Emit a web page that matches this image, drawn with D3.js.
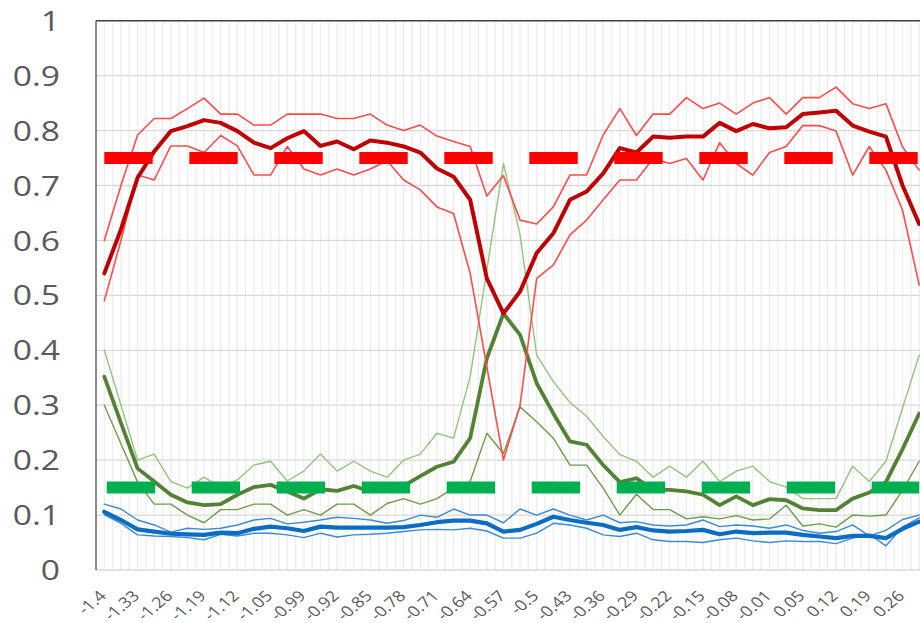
<!DOCTYPE html>
<html>
<head>
<meta charset="utf-8">
<script src="https://cdn.jsdelivr.net/npm/d3@7"></script>
<style>
  html, body { margin: 0; padding: 0; background: #fff; }
  svg { display: block; font-family: "Open Sans", "DejaVu Sans", sans-serif; }
</style>
</head>
<body>
<svg id="chart" width="920" height="623"></svg>
<script>
// Category labels shown on every second category
const xTickLabels = ["-1.4", "-1.33", "-1.26", "-1.19", "-1.12", "-1.05", "-0.99", "-0.92", "-0.85",
  "-0.78", "-0.71", "-0.64", "-0.57", "-0.5", "-0.43", "-0.36", "-0.29", "-0.22", "-0.15",
  "-0.08", "-0.01", "0.05", "0.12", "0.19", "0.26"];

const yTicks = [0, 0.1, 0.2, 0.3, 0.4, 0.5, 0.6, 0.7, 0.8, 0.9, 1];

// Reference levels drawn as thick dashed lines
const upperLevel = 0.75;
const lowerLevel = 0.15;

const redUpper = [0.60, 0.70, 0.792, 0.822, 0.822, 0.84, 0.859, 0.83, 0.83, 0.81,
  0.81, 0.83, 0.83, 0.83, 0.822, 0.822, 0.83, 0.81, 0.80, 0.81,
  0.79, 0.78, 0.771, 0.681, 0.718, 0.637, 0.63, 0.661, 0.719, 0.719,
  0.792, 0.84, 0.791, 0.83, 0.83, 0.86, 0.84, 0.85, 0.83, 0.85,
  0.86, 0.83, 0.86, 0.86, 0.879, 0.849, 0.84, 0.849, 0.77, 0.728];

const redMean = [0.54, 0.62, 0.714, 0.762, 0.799, 0.808, 0.819, 0.814, 0.799, 0.778,
  0.768, 0.786, 0.799, 0.772, 0.78, 0.766, 0.782, 0.778, 0.771, 0.76,
  0.731, 0.716, 0.674, 0.531, 0.467, 0.507, 0.577, 0.613, 0.674, 0.689,
  0.722, 0.768, 0.76, 0.789, 0.787, 0.789, 0.789, 0.814, 0.799, 0.812,
  0.804, 0.806, 0.83, 0.833, 0.836, 0.809, 0.798, 0.789, 0.70, 0.63];

const redLower = [0.49, 0.60, 0.719, 0.71, 0.772, 0.772, 0.76, 0.791, 0.772, 0.719,
  0.719, 0.771, 0.73, 0.719, 0.73, 0.719, 0.73, 0.745, 0.71, 0.692,
  0.661, 0.649, 0.54, 0.37, 0.20, 0.30, 0.531, 0.555, 0.61, 0.637,
  0.674, 0.71, 0.71, 0.749, 0.74, 0.749, 0.71, 0.778, 0.74, 0.719,
  0.76, 0.771, 0.809, 0.809, 0.799, 0.719, 0.771, 0.728, 0.655, 0.519];

const greenUpper = [0.40, 0.30, 0.20, 0.211, 0.161, 0.149, 0.169, 0.151, 0.164, 0.191,
  0.198, 0.162, 0.18, 0.211, 0.18, 0.198, 0.18, 0.169, 0.20, 0.211,
  0.249, 0.24, 0.352, 0.546, 0.74, 0.61, 0.391, 0.343, 0.305, 0.28,
  0.243, 0.21, 0.198, 0.169, 0.189, 0.169, 0.198, 0.161, 0.18, 0.189,
  0.161, 0.151, 0.13, 0.13, 0.13, 0.189, 0.161, 0.198, 0.295, 0.391];

const greenMean = [0.352, 0.268, 0.185, 0.161, 0.137, 0.123, 0.118, 0.12, 0.137, 0.151,
  0.155, 0.143, 0.13, 0.147, 0.144, 0.153, 0.143, 0.151, 0.153, 0.171,
  0.188, 0.197, 0.24, 0.385, 0.467, 0.428, 0.34, 0.285, 0.234, 0.228,
  0.191, 0.16, 0.167, 0.146, 0.146, 0.143, 0.137, 0.118, 0.134, 0.118,
  0.129, 0.127, 0.112, 0.109, 0.109, 0.13, 0.141, 0.16, 0.22, 0.285];

const greenLower = [0.30, 0.23, 0.16, 0.12, 0.12, 0.10, 0.086, 0.11, 0.11, 0.12,
  0.12, 0.10, 0.11, 0.10, 0.12, 0.12, 0.10, 0.121, 0.13, 0.12,
  0.13, 0.149, 0.161, 0.249, 0.212, 0.297, 0.27, 0.24, 0.191, 0.191,
  0.149, 0.10, 0.138, 0.11, 0.11, 0.093, 0.097, 0.093, 0.099, 0.091,
  0.093, 0.118, 0.08, 0.084, 0.078, 0.10, 0.098, 0.10, 0.145, 0.198];

const blueUpper = [0.12, 0.111, 0.091, 0.082, 0.069, 0.076, 0.074, 0.076, 0.082, 0.091,
  0.094, 0.084, 0.087, 0.091, 0.096, 0.094, 0.091, 0.085, 0.09, 0.10,
  0.096, 0.111, 0.10, 0.10, 0.086, 0.111, 0.10, 0.111, 0.10, 0.091,
  0.10, 0.086, 0.088, 0.082, 0.08, 0.082, 0.091, 0.079, 0.082, 0.08,
  0.076, 0.082, 0.072, 0.067, 0.07, 0.082, 0.062, 0.072, 0.092, 0.10];

const blueMean = [0.106, 0.091, 0.074, 0.07, 0.066, 0.065, 0.064, 0.068, 0.067, 0.075,
  0.079, 0.076, 0.071, 0.079, 0.077, 0.077, 0.077, 0.077, 0.078, 0.082,
  0.087, 0.09, 0.09, 0.085, 0.07, 0.073, 0.084, 0.097, 0.091, 0.086,
  0.082, 0.073, 0.078, 0.072, 0.07, 0.071, 0.073, 0.065, 0.07, 0.067,
  0.068, 0.068, 0.064, 0.061, 0.058, 0.062, 0.062, 0.058, 0.075, 0.088];

const blueLower = [0.101, 0.085, 0.064, 0.062, 0.061, 0.059, 0.055, 0.065, 0.062, 0.067,
  0.067, 0.064, 0.059, 0.067, 0.06, 0.064, 0.065, 0.067, 0.07, 0.073,
  0.074, 0.073, 0.076, 0.071, 0.058, 0.058, 0.067, 0.085, 0.082, 0.076,
  0.064, 0.061, 0.067, 0.055, 0.052, 0.052, 0.05, 0.055, 0.058, 0.053,
  0.05, 0.053, 0.052, 0.052, 0.048, 0.058, 0.065, 0.044, 0.078, 0.095];

const svg = d3.select("#chart");

const nCat = redMean.length;
const plotLeft = 96, plotTop = 20.7, plotBottom = 570, catWidth = 16.63;
const plotRight = plotLeft + nCat * catWidth;

const x = d3.scaleBand().domain(d3.range(nCat)).range([plotLeft, plotRight]).padding(0);
const cx = i => x(i) + x.bandwidth() / 2;
const y = d3.scaleLinear().domain([0, 1]).range([plotBottom, plotTop]);

// vertical gridlines at category edges and centres
const grid = svg.append("g");
const vLines = [];
d3.range(nCat).forEach(i => { if (i > 0) vLines.push(x(i)); vLines.push(cx(i)); });
grid.selectAll("line.v").data(vLines).join("line")
  .attr("x1", d => d).attr("x2", d => d)
  .attr("y1", y(0)).attr("y2", y(1))
  .attr("stroke", "#eeeeee").attr("stroke-width", 1.4);

// horizontal gridlines
grid.selectAll("line.h").data(yTicks.filter(t => t < 1)).join("line")
  .attr("x1", plotLeft).attr("x2", plotRight)
  .attr("y1", d => y(d)).attr("y2", d => y(d))
  .attr("stroke", "#d9d9d9").attr("stroke-width", 1.3);

// plot frame: top edge and value axis line
svg.append("line").attr("x1", plotLeft).attr("x2", plotRight)
  .attr("y1", y(1)).attr("y2", y(1)).attr("stroke", "#3f3f3f").attr("stroke-width", 1.6);
svg.append("line").attr("x1", plotLeft).attr("x2", plotLeft)
  .attr("y1", y(1)).attr("y2", y(0)).attr("stroke", "#595959").attr("stroke-width", 1.4);

// value axis labels
svg.append("g").selectAll("text").data(yTicks).join("text")
  .attr("transform", d => `translate(60,${y(d)}) scale(1.2,1)`)
  .attr("text-anchor", "end").attr("dy", "0.36em")
  .attr("font-size", 28).attr("fill", "#595959")
  .text(d => d3.format("~g")(d));

// category labels, rotated
svg.append("g").selectAll("text").data(xTickLabels).join("text")
  .attr("transform", (d, j) => `translate(${cx(j * 2) + 3},597) scale(1.2,1) rotate(-45)`)
  .attr("text-anchor", "end")
  .attr("font-size", 15).attr("fill", "#595959")
  .text(d => d);

const line = d3.line().x((d, i) => cx(i)).y(d => y(d)).curve(d3.curveLinear);

const series = [
  { data: blueUpper, color: "#3a8bd6", width: 1.4 },
  { data: blueLower, color: "#3a8bd6", width: 1.4 },
  { data: blueMean, color: "#0a6cc2", width: 4.2 },
  { data: greenUpper, color: "#93c47d", width: 1.4 },
  { data: greenLower, color: "#6b9d4b", width: 1.4 },
  { data: greenMean, color: "#548235", width: 3.8 },
  { data: redUpper, color: "#ff4b4b", width: 1.6 },
  { data: redLower, color: "#ff4b4b", width: 1.6 },
  { data: redMean, color: "#c00000", width: 4 }
];

svg.append("g").selectAll("path").data(series).join("path")
  .attr("d", d => line(d.data))
  .attr("fill", "none")
  .attr("stroke", d => d.color)
  .attr("stroke-width", d => d.width)
  .attr("stroke-linejoin", "round")
  .attr("stroke-linecap", "round");

// dashed reference levels
const levels = [
  { v: upperLevel, color: "#ff0000", offset: 0 },
  { v: lowerLevel, color: "#00b050", offset: -2.4 }
];
svg.append("g").selectAll("line").data(levels).join("line")
  .attr("x1", cx(0)).attr("x2", cx(nCat - 1))
  .attr("y1", d => y(d.v)).attr("y2", d => y(d.v))
  .attr("stroke", d => d.color)
  .attr("stroke-width", 12)
  .attr("stroke-dasharray", "48.4,36.6")
  .attr("stroke-dashoffset", d => d.offset)
  .attr("stroke-linecap", "butt");
</script>
</body>
</html>
